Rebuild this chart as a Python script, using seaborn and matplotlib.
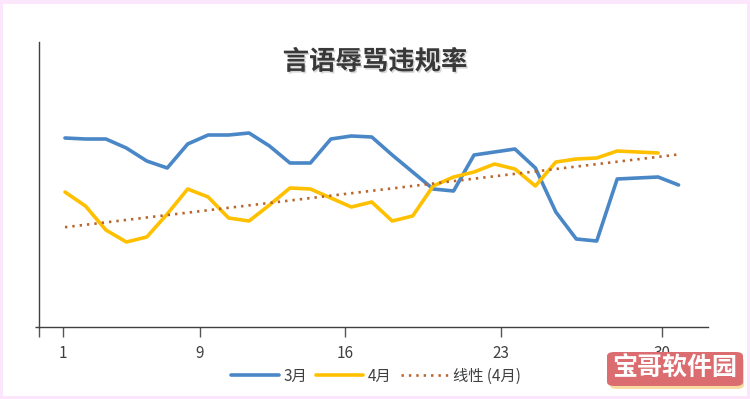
#!/usr/bin/env python3

import matplotlib
matplotlib.use('Agg')
import matplotlib.pyplot as plt     # plotting
import matplotlib.patheffects as pe
from matplotlib.patches import Rectangle, FancyBboxPatch
import seaborn as sns               # plotting
import numpy as np
import pandas as pd

# daily rate values (3月 has 31 days, 4月 has 30)
days_mar = list(range(1, 32))
rate_mar = [1.89, 1.88, 1.88, 1.79, 1.66, 1.59, 1.83, 1.92, 1.92, 1.94,
            1.81, 1.64, 1.64, 1.88, 1.91, 1.90, 1.72, 1.55, 1.38, 1.36,
            1.72, 1.75, 1.78, 1.59, 1.15, 0.88, 0.86, 1.48, 1.49, 1.50, 1.42]
days_apr = list(range(1, 31))
rate_apr = [1.35, 1.21, 0.97, 0.85, 0.90, 1.13, 1.38, 1.30, 1.09, 1.06,
            1.22, 1.39, 1.38, 1.29, 1.20, 1.25, 1.06, 1.11, 1.41, 1.50,
            1.55, 1.63, 1.58, 1.41, 1.65, 1.68, 1.69, 1.76, 1.75, 1.74]

tick_labels = ['1', '9', '16', '23', '30']
tick_pos = [0.9, 7.6, 14.7, 22.3, 30.2]   # where the labels sit in the reference

title = '言语辱骂违规率'
names = ['3月', '4月', '线性 (4月)']

sns.set_theme(style='white')
plt.rcParams['font.family'] = ['Noto Sans CJK SC', 'DejaVu Sans']

fig = plt.figure(figsize=(7.5, 3.99), dpi=100, facecolor='#fce6fb')
# white sheet inside the thin pink border
fig.patches.append(Rectangle((3 / 750, 3 / 399), 744 / 750, 392 / 399,
                             transform=fig.transFigure, facecolor='white',
                             edgecolor='none', zorder=-10))

ax = fig.add_axes([39 / 750, 72 / 399, 669 / 750, 285 / 399])
ax.set_facecolor('none')

df_mar = pd.DataFrame({'day': days_mar, 'rate': rate_mar})
df_apr = pd.DataFrame({'day': days_apr, 'rate': rate_apr})

sns.lineplot(data=df_mar, x='day', y='rate', ax=ax, color='#4a87c6',
             linewidth=2.6, label=names[0])
sns.lineplot(data=df_apr, x='day', y='rate', ax=ax, color='#ffc000',
             linewidth=2.6, label=names[1])

# linear trendline of April, extended over the whole month axis
k, b = np.polyfit(days_apr, rate_apr, 1)
trend = [k * d + b for d in days_mar]
ax.plot(days_mar, trend, color='#b8662e', linewidth=1.9,
        linestyle=(0, (0.9, 1.9)), label=names[2])

x_left = -0.27
ax.set_xlim(x_left, 32.44)
ax.set_ylim(0, 2.85)
ax.set_xlabel('')
ax.set_ylabel('')

ax.set_xticks(tick_pos + [x_left])
ax.set_xticklabels(tick_labels + [''])
ax.set_yticks([0])
ax.set_yticklabels([''])
ax.tick_params(axis='x', direction='out', length=7, width=1, color='#555555',
               labelsize=11, labelcolor='#404040', pad=6, bottom=True)
ax.tick_params(axis='y', direction='out', length=3, width=1, color='#404040',
               left=True)

for s in ['top', 'right']:
    ax.spines[s].set_visible(False)
for s in ['left', 'bottom']:
    ax.spines[s].set_color('#404040')
    ax.spines[s].set_linewidth(1.0)

fig.text(0.5, 1 - 62 / 399, title, ha='center', va='center', fontsize=19,
         fontweight=900, color='#383838',
         path_effects=[pe.withSimplePatchShadow(offset=(1, -1.2),
                                                shadow_rgbFace='#bbbbbb',
                                                alpha=0.6)])

ax.legend(loc='center', bbox_to_anchor=((376 - 39) / 669, -(376 - 327) / 285),
          ncol=3, frameon=False, fontsize=11, handlelength=3.1,
          handletextpad=0.3, columnspacing=0.6, labelcolor='#404040')

# site watermark in the bottom right corner
fig.patches.append(FancyBboxPatch((610 / 750, 1 - 389 / 399), 134 / 750, 32 / 399,
                                  boxstyle='round,pad=0,rounding_size=0.01',
                                  transform=fig.transFigure, facecolor='#f8dba0',
                                  edgecolor='none', zorder=5))
fig.patches.append(FancyBboxPatch((607 / 750, 1 - 386 / 399), 136 / 750, 34 / 399,
                                  boxstyle='round,pad=0,rounding_size=0.01',
                                  transform=fig.transFigure, facecolor='#db6d70',
                                  edgecolor='none', zorder=6))
fig.text(675 / 750, 1 - 369 / 399, '宝哥软件园', ha='center', va='center',
         fontsize=18, fontweight=900, color='white', zorder=7)

plt.savefig('out.png', dpi=100, facecolor=fig.get_facecolor())
